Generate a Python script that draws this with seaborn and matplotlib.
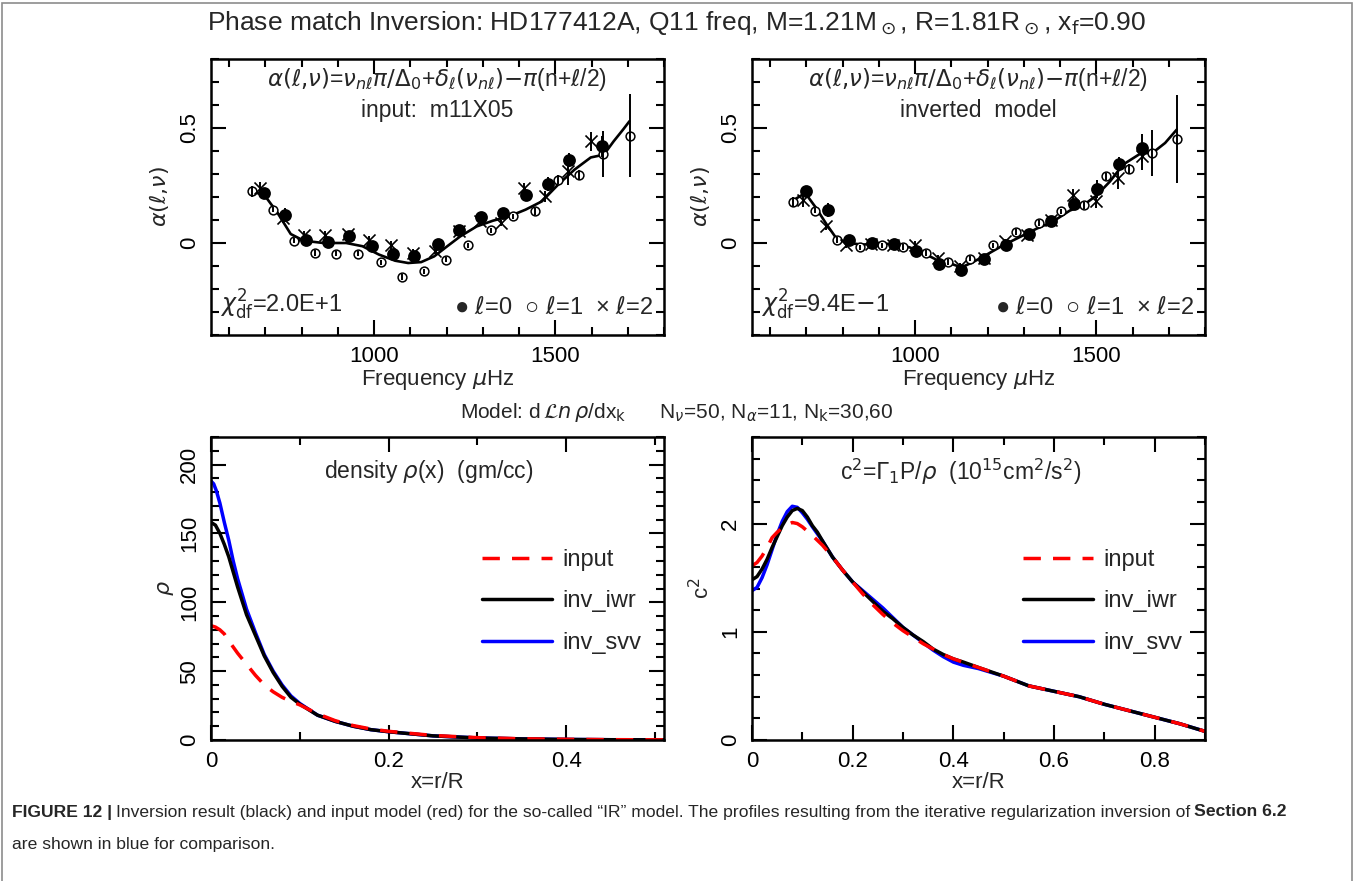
import matplotlib
matplotlib.use("Agg")
import matplotlib.pyplot as plt
import seaborn as sns
from matplotlib.ticker import MultipleLocator
from matplotlib.lines import Line2D
from matplotlib.patches import Rectangle

# ---------------- top panels: alpha(l, nu) ----------------
# input model m11X05 (left)
in_curve_f = [662, 698, 734, 770, 806, 860, 923, 968, 1013, 1058, 1094, 1130, 1166,
              1202, 1238, 1283, 1328, 1373, 1418, 1463, 1508, 1553, 1598, 1634, 1661, 1688, 1705]
in_curve_a = [0.225, 0.207, 0.13, 0.039, 0.01, 0.0, 0.0, -0.014, -0.05, -0.077, -0.087, -0.083,
              -0.058, -0.014, 0.029, 0.072, 0.097, 0.116, 0.145, 0.181, 0.254, 0.319, 0.372,
              0.384, 0.442, 0.495, 0.53]
in_l0_f = [696, 754, 811, 872, 932, 993, 1052, 1109, 1175, 1233, 1295, 1355, 1418, 1479, 1539, 1629]
in_l0_a = [0.217, 0.123, 0.012, 0.003, 0.029, -0.014, -0.046, -0.058, -0.003, 0.058, 0.112,
           0.13, 0.21, 0.257, 0.362, 0.42]
in_l0_e = [0.02, 0.03, 0.015, 0.015, 0.015, 0.015, 0.015, 0.015, 0.015, 0.015, 0.015,
           0.015, 0.02, 0.03, 0.03, 0.045]
in_l1_f = [662, 721, 779, 838, 896, 957, 1018, 1078, 1139, 1199, 1260, 1322, 1384, 1445,
           1507, 1566, 1631, 1705]
in_l1_a = [0.225, 0.145, 0.01, -0.043, -0.046, -0.046, -0.084, -0.148, -0.123, -0.072, -0.01,
           0.055, 0.116, 0.138, 0.275, 0.297, 0.388, 0.467]
in_l1_e = [0.025, 0.012, 0.012, 0.012, 0.012, 0.012, 0.012, 0.012, 0.012, 0.012, 0.012,
           0.012, 0.012, 0.015, 0.02, 0.022, 0.1, 0.18]
in_l2_f = [685, 748, 806, 865, 928, 986, 1047, 1108, 1168, 1233, 1291, 1350, 1413, 1472, 1535, 1598]
in_l2_a = [0.239, 0.109, 0.036, 0.036, 0.039, 0.012, -0.01, -0.043, -0.033, 0.051, 0.094,
           0.087, 0.239, 0.203, 0.312, 0.442]
in_l2_e = [0.025, 0.02, 0.015, 0.015, 0.015, 0.02, 0.02, 0.015, 0.015, 0.015, 0.015,
           0.015, 0.02, 0.025, 0.06, 0.04]

# inverted model (right)
inv_curve_f = [662, 697, 727, 755, 782, 814, 856, 902, 948, 985, 1022, 1058, 1095, 1128, 1160,
               1197, 1243, 1289, 1335, 1381, 1427, 1464, 1501, 1538, 1574, 1620, 1657, 1690, 1722]
inv_curve_a = [0.184, 0.217, 0.152, 0.083, 0.022, 0.0, -0.007, -0.001, -0.007, -0.019, -0.043,
               -0.072, -0.088, -0.106, -0.083, -0.051, -0.01, 0.026, 0.062, 0.094, 0.141, 0.164,
               0.207, 0.268, 0.341, 0.387, 0.394, 0.435, 0.493]
inv_l0_f = [699, 761, 819, 882, 941, 1003, 1065, 1126, 1189, 1250, 1314, 1376, 1439, 1501, 1563, 1627]
inv_l0_a = [0.225, 0.145, 0.014, 0.0, -0.004, -0.033, -0.09, -0.116, -0.068, -0.01, 0.039,
            0.097, 0.17, 0.235, 0.343, 0.413]
inv_l0_e = [0.015, 0.03, 0.012, 0.012, 0.012, 0.012, 0.012, 0.012, 0.012, 0.012, 0.012,
            0.012, 0.015, 0.04, 0.03, 0.06]
inv_l1_f = [662, 725, 785, 847, 908, 968, 1031, 1091, 1151, 1215, 1278, 1342, 1404, 1466,
            1528, 1590, 1655, 1722]
inv_l1_a = [0.178, 0.141, 0.014, -0.019, -0.01, -0.017, -0.043, -0.083, -0.068, -0.01, 0.048,
            0.087, 0.138, 0.164, 0.29, 0.322, 0.391, 0.452]
inv_l1_e = [0.02, 0.012, 0.012, 0.012, 0.012, 0.012, 0.012, 0.012, 0.012, 0.012, 0.012,
            0.012, 0.012, 0.015, 0.015, 0.02, 0.1, 0.19]
inv_l2_f = [690, 755, 810, 879, 939, 999, 1063, 1123, 1190, 1247, 1310, 1374, 1436, 1498, 1561, 1625]
inv_l2_a = [0.188, 0.072, -0.01, -0.003, -0.01, -0.007, -0.065, -0.101, -0.065, 0.007, 0.033,
            0.099, 0.21, 0.181, 0.283, 0.377]
inv_l2_e = [0.03, 0.015, 0.012, 0.012, 0.012, 0.015, 0.015, 0.012, 0.012, 0.012, 0.012,
            0.015, 0.025, 0.03, 0.05, 0.06]

# ---------------- bottom-left: density ----------------
rho_input_x = [0, 0.005, 0.01, 0.015, 0.02, 0.03, 0.04, 0.05, 0.06, 0.07, 0.08, 0.09, 0.10,
               0.12, 0.14, 0.16, 0.18, 0.20, 0.25, 0.30, 0.35, 0.40, 0.45, 0.51]
rho_input = [83, 82, 80, 77, 72, 63, 55, 47, 40, 35, 31, 28, 25.5, 19, 14, 10.5, 8, 6.3,
             3.3, 1.7, 0.9, 0.5, 0.25, 0.1]
rho_iwr_x = [0, 0.005, 0.01, 0.015, 0.02, 0.025, 0.03, 0.04, 0.05, 0.06, 0.07, 0.08, 0.09,
             0.10, 0.12, 0.14, 0.16, 0.18, 0.20, 0.25, 0.30, 0.35, 0.40, 0.45, 0.51]
rho_iwr = [158, 156, 150, 142, 133, 122, 111, 91, 76, 61, 49, 39, 31, 26, 18, 13.5, 10,
           7.5, 6, 3, 1.5, 0.8, 0.4, 0.2, 0.1]
rho_svv_x = [0, 0.003, 0.006, 0.01, 0.015, 0.02, 0.025, 0.03, 0.035, 0.04, 0.05, 0.06, 0.07,
             0.08, 0.09, 0.10, 0.12, 0.14, 0.16, 0.18, 0.20, 0.25, 0.30, 0.35, 0.40, 0.45, 0.51]
rho_svv = [188, 186, 181, 172, 158, 145, 130, 117, 106, 95, 78, 62, 50, 40, 32, 26.5, 18,
           13.5, 10, 7.5, 6, 3, 1.5, 0.8, 0.4, 0.2, 0.1]

# ---------------- bottom-right: sound speed squared ----------------
c2_input_x = [0, 0.01, 0.02, 0.03, 0.04, 0.05, 0.06, 0.07, 0.08, 0.09, 0.10, 0.11, 0.12, 0.14,
              0.16, 0.18, 0.20, 0.22, 0.24, 0.26, 0.28, 0.30, 0.32, 0.34, 0.36, 0.38, 0.40,
              0.45, 0.50, 0.55, 0.60, 0.65, 0.70, 0.75, 0.80, 0.85, 0.90]
c2_input = [1.61, 1.64, 1.70, 1.78, 1.87, 1.92, 1.96, 1.99, 2.01, 2.0, 1.97, 1.93, 1.89, 1.80,
            1.69, 1.57, 1.46, 1.35, 1.25, 1.16, 1.08, 1.01, 0.95, 0.89, 0.84, 0.79, 0.75,
            0.67, 0.59, 0.50, 0.45, 0.40, 0.33, 0.27, 0.21, 0.15, 0.08]
c2_iwr_x = [0, 0.01, 0.02, 0.03, 0.04, 0.05, 0.06, 0.07, 0.08, 0.09, 0.10, 0.11, 0.12, 0.13,
            0.14, 0.16, 0.18, 0.20, 0.22, 0.24, 0.26, 0.28, 0.30, 0.32, 0.34, 0.36, 0.38, 0.40,
            0.42, 0.45, 0.50, 0.55, 0.60, 0.65, 0.70, 0.75, 0.80, 0.85, 0.90]
c2_iwr = [1.48, 1.51, 1.58, 1.67, 1.78, 1.88, 1.98, 2.06, 2.12, 2.14, 2.12, 2.06, 1.98, 1.92,
          1.84, 1.69, 1.57, 1.46, 1.37, 1.28, 1.19, 1.12, 1.04, 0.97, 0.91, 0.84, 0.79, 0.75,
          0.72, 0.67, 0.59, 0.50, 0.45, 0.40, 0.33, 0.27, 0.21, 0.15, 0.08]
c2_svv_x = [0, 0.01, 0.02, 0.03, 0.04, 0.05, 0.06, 0.07, 0.08, 0.09, 0.10, 0.11, 0.12, 0.14,
            0.16, 0.18, 0.20, 0.22, 0.24, 0.26, 0.28, 0.30, 0.32, 0.34, 0.36, 0.38, 0.40,
            0.42, 0.45, 0.50, 0.55, 0.60, 0.65, 0.70, 0.75, 0.80, 0.85, 0.90]
c2_svv = [1.38, 1.41, 1.50, 1.62, 1.76, 1.90, 2.02, 2.11, 2.16, 2.15, 2.10, 2.04, 1.97, 1.84,
          1.69, 1.57, 1.46, 1.38, 1.30, 1.22, 1.13, 1.04, 0.97, 0.90, 0.83, 0.77, 0.72,
          0.69, 0.66, 0.59, 0.50, 0.45, 0.40, 0.33, 0.27, 0.21, 0.15, 0.08]

title = (r"Phase match Inversion: HD177412A, Q11 freq, M=1.21M$_\odot$, "
         r"R=1.81R$_\odot$, x$_\mathrm{f}$=0.90")
formula = (r"$\alpha(\ell{,}\nu)$=$\nu_{n\ell}\pi/\Delta_0$+$\delta_\ell(\nu_{n\ell})$"
           r"$-\pi$(n+$\ell$/2)")

sns.set_theme(style="ticks")
plt.rcParams["font.family"] = ["Liberation Sans", "DejaVu Sans"]
plt.rcParams["mathtext.fontset"] = "dejavusans"

W, H = 1354, 881
FS = 16
fig = plt.figure(figsize=(W / 100, H / 100), dpi=100)


def make_ax(left, top, right, bottom):
    return fig.add_axes([left / W, 1 - bottom / H, (right - left) / W, (bottom - top) / H])


def style(ax):
    for s in ax.spines.values():
        s.set_linewidth(1.8)
        s.set_color("black")
    ax.tick_params(which="both", direction="in", top=True, right=True, width=1.5,
                   labelsize=FS, colors="black", pad=8)
    ax.tick_params(which="major", length=11)
    ax.tick_params(which="minor", length=6)
    ax.tick_params(axis="y", labelrotation=90)
    for lab in ax.get_yticklabels():
        lab.set_verticalalignment("center")


ax_tl = make_ax(211, 59, 664, 335)
ax_tr = make_ax(752, 59, 1205, 335)
ax_bl = make_ax(211, 437, 664, 740)
ax_br = make_ax(752, 437, 1205, 740)

top_sets = [
    (ax_tl, in_curve_f, in_curve_a, in_l0_f, in_l0_a, in_l0_e, in_l1_f, in_l1_a, in_l1_e,
     in_l2_f, in_l2_a, in_l2_e, "input:  m11X05", r"$\chi^2_\mathrm{df}$=2.0E+1"),
    (ax_tr, inv_curve_f, inv_curve_a, inv_l0_f, inv_l0_a, inv_l0_e, inv_l1_f, inv_l1_a, inv_l1_e,
     inv_l2_f, inv_l2_a, inv_l2_e, "inverted  model", r"$\chi^2_\mathrm{df}$=9.4E$-$1"),
]
for (ax, cf, ca, f0, a0, e0, f1, a1, e1, f2, a2, e2, sub, chi) in top_sets:
    sns.lineplot(x=cf, y=ca, ax=ax, color="black", lw=1.9, sort=False, estimator=None)
    sns.scatterplot(x=f1, y=a1, ax=ax, marker="o", s=40, facecolor="white",
                    edgecolor="black", linewidth=1.1, zorder=3)
    sns.scatterplot(x=f0, y=a0, ax=ax, marker="o", s=85, color="black",
                    edgecolor="black", linewidth=0, zorder=4)
    sns.scatterplot(x=f2, y=a2, ax=ax, marker="x", s=75, color="black",
                    linewidth=1.2, zorder=4)
    for f, a, e in [(f0, a0, e0), (f1, a1, e1), (f2, a2, e2)]:
        ax.errorbar(f, a, yerr=e, fmt="none", ecolor="black", elinewidth=1.4,
                    capsize=0, zorder=5)
    ax.set_xlim(550, 1800)
    ax.set_ylim(-0.4, 0.8)
    ax.xaxis.set_major_locator(MultipleLocator(500))
    ax.xaxis.set_minor_locator(MultipleLocator(100))
    ax.yaxis.set_major_locator(MultipleLocator(0.5))
    ax.yaxis.set_minor_locator(MultipleLocator(0.1))
    ax.set_yticks([0, 0.5])
    ax.set_yticklabels(["0", "0.5"])
    ax.set_xlabel(r"Frequency $\mu$Hz", fontsize=FS, labelpad=1)
    ax.set_ylabel(r"$\alpha(\ell{,}\nu)$", fontsize=FS, labelpad=6)
    ax.text(0.5, 0.925, formula, transform=ax.transAxes, ha="center", va="center", fontsize=16.5)
    ax.text(0.5, 0.815, sub, transform=ax.transAxes, ha="center", va="center", fontsize=16.5)
    ax.text(0.02, 0.11, chi, transform=ax.transAxes, ha="left", va="center", fontsize=17)
    ax.text(0.975, 0.10, r"● $\ell$=0  ○ $\ell$=1  × $\ell$=2", transform=ax.transAxes,
            ha="right", va="center", fontsize=17)
    style(ax)

bottom_sets = [
    (ax_bl, rho_input_x, rho_input, rho_iwr_x, rho_iwr, rho_svv_x, rho_svv),
    (ax_br, c2_input_x, c2_input, c2_iwr_x, c2_iwr, c2_svv_x, c2_svv),
]
for ax, xi, yi, xw, yw, xs, ys in bottom_sets:
    sns.lineplot(x=xs, y=ys, ax=ax, color="#0000ff", lw=2.5, sort=False, estimator=None)
    sns.lineplot(x=xw, y=yw, ax=ax, color="black", lw=2.5, sort=False, estimator=None)
    sns.lineplot(x=xi, y=yi, ax=ax, color="#ff0000", lw=2.5, sort=False, estimator=None,
                 linestyle=(0, (5, 3.5)))
    handles = [Line2D([], [], color="#ff0000", lw=2.5, ls=(0, (5, 3.5))),
               Line2D([], [], color="black", lw=2.5),
               Line2D([], [], color="#0000ff", lw=2.5)]
    ax.legend(handles, ["input", "inv_iwr", "inv_svv"], loc="upper left",
              bbox_to_anchor=(0.598, 0.63), frameon=False, fontsize=17,
              handlelength=2.95, handletextpad=0.45, labelspacing=0.82, borderpad=0,
              borderaxespad=0)
    ax.set_xlabel("x=r/R", fontsize=FS, labelpad=0)

ax_bl.set_xlim(0, 0.51)
ax_bl.set_ylim(0, 220)
ax_bl.xaxis.set_major_locator(MultipleLocator(0.2))
ax_bl.xaxis.set_minor_locator(MultipleLocator(0.1))
ax_bl.yaxis.set_major_locator(MultipleLocator(50))
ax_bl.yaxis.set_minor_locator(MultipleLocator(10))
ax_bl.set_xticks([0, 0.2, 0.4])
ax_bl.set_xticklabels(["0", "0.2", "0.4"])
ax_bl.set_ylabel(r"$\rho$", fontsize=FS, labelpad=2)
ax_bl.text(0.48, 0.885, r"density $\rho$(x)  (gm/cc)", transform=ax_bl.transAxes,
           ha="center", va="center", fontsize=16.5)
style(ax_bl)

ax_br.set_xlim(0, 0.9)
ax_br.set_ylim(0, 2.8)
ax_br.xaxis.set_major_locator(MultipleLocator(0.2))
ax_br.xaxis.set_minor_locator(MultipleLocator(0.1))
ax_br.yaxis.set_major_locator(MultipleLocator(1))
ax_br.yaxis.set_minor_locator(MultipleLocator(0.2))
ax_br.set_xticks([0, 0.2, 0.4, 0.6, 0.8])
ax_br.set_xticklabels(["0", "0.2", "0.4", "0.6", "0.8"])
ax_br.set_yticks([0, 1, 2])
ax_br.set_yticklabels(["0", "1", "2"])
ax_br.set_ylabel(r"c$^2$", fontsize=FS, labelpad=4)
ax_br.text(0.46, 0.885, r"c$^2$=$\Gamma_1$P/$\rho$  (10$^{15}$cm$^2$/s$^2$)",
           transform=ax_br.transAxes, ha="center", va="center", fontsize=16.5)
style(ax_br)

fig.text(0.5, 1 - 23 / H, title, ha="center", va="center", fontsize=19)
fig.text(0.5, 1 - 412 / H,
         r"Model: d$\,\mathcal{L}\mathit{n}\,\rho$/dx$_\mathrm{k}$      "
         r"N$_\nu$=50, N$_\alpha$=11, N$_\mathrm{k}$=30,60",
         ha="center", va="center", fontsize=15)

# frame of the figure panel
fig.patches.append(Rectangle((2 / W, -0.05), 1 - 4 / W, 1.05 - 3 / H, transform=fig.transFigure,
                             fill=False, edgecolor="#8c8c8c", lw=1.2))

# caption, written piece by piece so bold runs line up
cap_family = ["Liberation Sans", "DejaVu Sans"]
fig.canvas.draw()
rend = fig.canvas.get_renderer()


def run_text(x_px, y_frac, parts, size):
    for txt, weight in parts:
        t = fig.text(x_px / W, y_frac, txt, ha="left", va="center", fontsize=size,
                     fontweight=weight, family=cap_family)
        x_px = t.get_window_extent(rend).x1 + 4


run_text(12, 1 - 812 / H,
         [("FIGURE 12 |", "bold"),
          ("Inversion result (black) and input model (red) for the so-called \u201cIR\u201d model. "
           "The profiles resulting from the iterative regularization inversion of", "normal"),
          ("Section 6.2", "bold")], 12.6)
run_text(12, 1 - 845 / H, [("are shown in blue for comparison.", "normal")], 12.6)

fig.savefig("out.png", dpi=100)
